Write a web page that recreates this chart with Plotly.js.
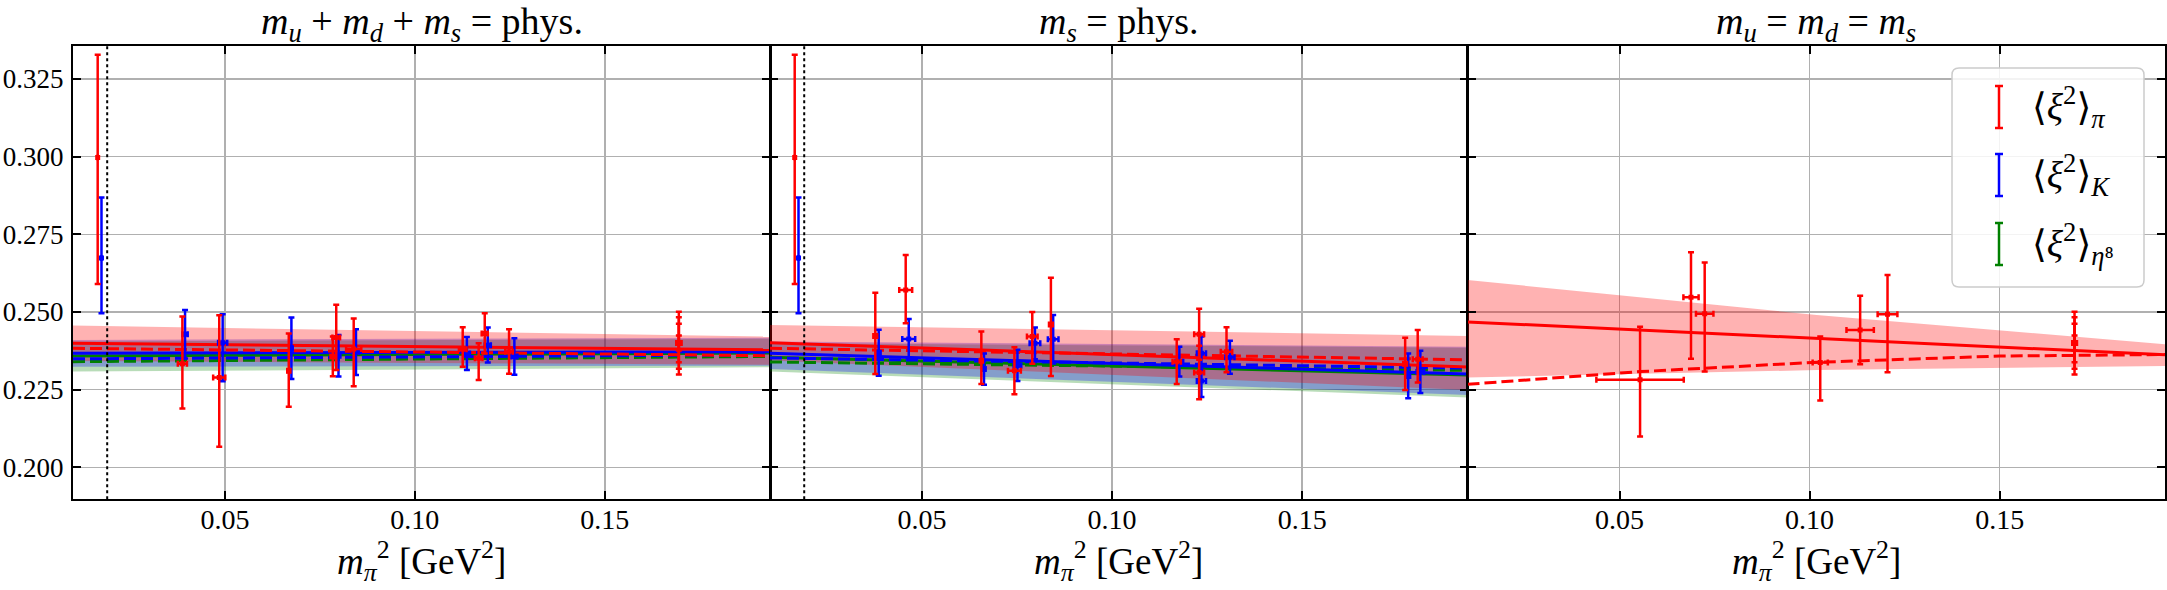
<!DOCTYPE html>
<html>
<head>
<meta charset="utf-8">
<script src="https://cdn.plot.ly/plotly-3.0.1.min.js"></script>
<style>html,body{margin:0;padding:0;background:#fff;}#chart{width:2167px;height:590px;}</style>
</head>
<body>
<div id="chart"></div>
<script>
// ---------------- data ----------------
const X_RANGE = [0.01, 0.1935];
const Y_RANGE = [0.1897, 0.3356];
const X_TICKS = [0.05, 0.10, 0.15];
const X_TICKTEXT = ['0.05', '0.10', '0.15'];
const Y_TICKS = [0.200, 0.225, 0.250, 0.275, 0.300, 0.325];
const Y_TICKTEXT = ['0.200', '0.225', '0.250', '0.275', '0.300', '0.325'];
const PHYS_MPI2 = 0.0190;

const PANEL_TITLES = [
  '<i>m</i><sub><i>u</i></sub> + <i>m</i><sub><i>d</i></sub> + <i>m</i><sub><i>s</i></sub> = phys.',
  '<i>m</i><sub><i>s</i></sub> = phys.',
  '<i>m</i><sub><i>u</i></sub> = <i>m</i><sub><i>d</i></sub> = <i>m</i><sub><i>s</i></sub>'
];
const X_TITLE = '<i>m</i><sub><i>π</i></sub><sup>2</sup> [GeV<sup>2</sup>]';
const LEGEND_LABELS = [
  '⟨<i>ξ</i><sup>2</sup>⟩<sub><i>π</i></sub>',
  '⟨<i>ξ</i><sup>2</sup>⟩<sub><i>K</i></sub>',
  '⟨<i>ξ</i><sup>2</sup>⟩<sub><i>η</i>⁸</sub>'
];

// Panel 1: m_u + m_d + m_s = phys.
const P1_PI_X      = [0.0165, 0.0388, 0.0485, 0.0668, 0.0784, 0.0793, 0.0839, 0.1126, 0.1168, 0.1184, 0.1248, 0.1695, 0.1695, 0.1695, 0.1695];
const P1_PI_Y      = [0.2997, 0.2333, 0.2289, 0.2311, 0.2357, 0.2418, 0.2381, 0.2380, 0.2351, 0.2431, 0.2372, 0.2400, 0.2400, 0.2400, 0.2400];
const P1_PI_EP     = [0.0331, 0.0152, 0.0200, 0.0120, 0.0064, 0.0105, 0.0098, 0.0071, 0.0048, 0.0065, 0.0072, 0.0101, 0.0083, 0.0062, 0.0024];
const P1_PI_EM     = [0.0407, 0.0144, 0.0223, 0.0116, 0.0064, 0.0105, 0.0120, 0.0056, 0.0070, 0.0065, 0.0071, 0.0101, 0.0083, 0.0062, 0.0024];
const P1_PI_XE     = [0.0000, 0.0012, 0.0016, 0.0004, 0.0006, 0.0010, 0.0020, 0.0010, 0.0010, 0.0008, 0.0010, 0.0006, 0.0006, 0.0006, 0.0006];
const P1_K_X       = [0.0175, 0.0395, 0.0494, 0.0675, 0.0799, 0.0845, 0.1137, 0.1192, 0.1262];
const P1_K_Y       = [0.2674, 0.2428, 0.2401, 0.2383, 0.2359, 0.2371, 0.2366, 0.2393, 0.2357];
const P1_K_EP      = [0.0194, 0.0078, 0.0092, 0.0099, 0.0067, 0.0073, 0.0053, 0.0057, 0.0058];
const P1_K_EM      = [0.0178, 0.0078, 0.0124, 0.0099, 0.0067, 0.0074, 0.0053, 0.0056, 0.0059];
const P1_K_XE      = [0.0000, 0.0007, 0.0012, 0.0003, 0.0005, 0.0008, 0.0008, 0.0008, 0.0008];
const P1_FIT_X     = [0.01, 0.1935];
const P1_PI_UP     = [0.2456, 0.2421];
const P1_PI_LO     = [0.2342, 0.2330];
const P1_K_UP      = [0.2410, 0.2417];
const P1_K_LO      = [0.2324, 0.2327];
const P1_ETA_UP    = [0.2405, 0.2414];
const P1_ETA_LO    = [0.2308, 0.2322];
const P1_PI_SOLID  = [0.2399, 0.2378];
const P1_PI_DASH   = [0.2383, 0.2359];
const P1_K_SOLID   = [0.2367, 0.2372];
const P1_K_DASH    = [0.2349, 0.2362];
const P1_ETA_SOLID = [0.2358, 0.2368];
const P1_ETA_DASH  = [0.2340, 0.2357];

// Panel 2: m_s = phys.
const P2_PI_X      = [0.0165, 0.0377, 0.0457, 0.0656, 0.0743, 0.0790, 0.0839, 0.1170, 0.1229, 0.1229, 0.1301, 0.1771, 0.1804];
const P2_PI_Y      = [0.2997, 0.2423, 0.2571, 0.2343, 0.2311, 0.2421, 0.2460, 0.2340, 0.2428, 0.2305, 0.2372, 0.2333, 0.2348];
const P2_PI_EP     = [0.0331, 0.0139, 0.0112, 0.0094, 0.0075, 0.0079, 0.0150, 0.0072, 0.0082, 0.0086, 0.0079, 0.0084, 0.0094];
const P2_PI_EM     = [0.0407, 0.0123, 0.0107, 0.0075, 0.0076, 0.0088, 0.0166, 0.0072, 0.0082, 0.0086, 0.0066, 0.0084, 0.0075];
const P2_PI_XE     = [0.0000, 0.0005, 0.0017, 0.0004, 0.0017, 0.0014, 0.0005, 0.0011, 0.0013, 0.0013, 0.0015, 0.0005, 0.0013];
const P2_K_X       = [0.0175, 0.0386, 0.0465, 0.0663, 0.0751, 0.0797, 0.0845, 0.1177, 0.1235, 0.1235, 0.1310, 0.1779, 0.1811];
const P2_K_Y       = [0.2674, 0.2369, 0.2413, 0.2316, 0.2328, 0.2399, 0.2412, 0.2340, 0.2367, 0.2278, 0.2354, 0.2294, 0.2307];
const P2_K_EP      = [0.0194, 0.0074, 0.0064, 0.0050, 0.0050, 0.0051, 0.0078, 0.0048, 0.0054, 0.0052, 0.0053, 0.0072, 0.0068];
const P2_K_EM      = [0.0178, 0.0074, 0.0064, 0.0050, 0.0050, 0.0051, 0.0078, 0.0048, 0.0054, 0.0052, 0.0053, 0.0072, 0.0068];
const P2_K_XE      = [0.0000, 0.0005, 0.0017, 0.0004, 0.0010, 0.0014, 0.0014, 0.0010, 0.0012, 0.0012, 0.0012, 0.0005, 0.0010];
const P2_FIT_X     = [0.01, 0.1935];
const P2_PI_UP     = [0.2458, 0.2423];
const P2_PI_LO     = [0.2344, 0.2249];
const P2_K_UP      = [0.2405, 0.2388];
const P2_K_LO      = [0.2316, 0.2233];
const P2_ETA_UP    = [0.2400, 0.2385];
const P2_ETA_LO    = [0.2308, 0.2225];
const P2_PI_SOLID  = [0.2401, 0.2323];
const P2_PI_DASH   = [0.2383, 0.2346];
const P2_K_SOLID   = [0.2367, 0.2300];
const P2_K_DASH    = [0.2352, 0.2319];
const P2_ETA_SOLID = [0.2354, 0.2297];
const P2_ETA_DASH  = [0.2339, 0.2312];

// Panel 3: m_u = m_d = m_s
const P3_PI_X      = [0.0554, 0.0688, 0.0724, 0.1028, 0.1133, 0.1205, 0.1697, 0.1697, 0.1697, 0.1697];
const P3_PI_Y      = [0.2282, 0.2547, 0.2494, 0.2337, 0.2442, 0.2493, 0.2400, 0.2400, 0.2400, 0.2400];
const P3_PI_EP     = [0.0170, 0.0145, 0.0165, 0.0084, 0.0110, 0.0126, 0.0101, 0.0083, 0.0062, 0.0024];
const P3_PI_EM     = [0.0183, 0.0198, 0.0186, 0.0122, 0.0110, 0.0187, 0.0101, 0.0083, 0.0062, 0.0024];
const P3_PI_XE     = [0.0115, 0.0020, 0.0023, 0.0020, 0.0036, 0.0026, 0.0006, 0.0006, 0.0006, 0.0006];
const P3_BAND_X    = [0.01, 0.1019, 0.1935];
const P3_PI_UP     = [0.2603, 0.2490, 0.2396];
const P3_PI_LO     = [0.2289, 0.2313, 0.2326];
const P3_SOLID_X   = [0.01, 0.1935];
const P3_PI_SOLID  = [0.2468, 0.2362];
const P3_DASH_X    = [0.01, 0.0554, 0.1019, 0.15, 0.1935];
const P3_PI_DASH   = [0.2267, 0.2308, 0.2338, 0.2358, 0.2363];

// ---------------- styling ----------------
const W = 2167, H = 590;
const FONT = 'Liberation Serif, DejaVu Serif, serif';
const RED = '#ff0000', BLUE = '#0000ff', GREEN = '#008000';
const PANEL_PX = [[73, 770], [770, 1467.5], [1467.5, 2165]];
const TOP_PX = 46, BOT_PX = 499.3;
const px2x = p => p / W;
const px2y = p => 1 - p / H;

const traces = [];
function band(ax, xs, up, lo, color) {
  traces.push({x: xs.concat(xs.slice().reverse()), y: up.concat(lo.slice().reverse()),
    xaxis: ax[0], yaxis: ax[1], type: 'scatter', mode: 'lines', fill: 'toself',
    fillcolor: color, line: {width: 0}, hoverinfo: 'skip'});
}
function line(ax, xs, ys, color, dash) {
  traces.push({x: xs, y: ys, xaxis: ax[0], yaxis: ax[1], type: 'scatter', mode: 'lines',
    line: {color: color, width: 3, dash: dash}, hoverinfo: 'skip'});
}
function points(ax, xs, ys, ep, em, xe, color) {
  traces.push({x: xs, y: ys, xaxis: ax[0], yaxis: ax[1], type: 'scatter', mode: 'markers',
    marker: {color: color, size: 5, symbol: 'square'},
    error_y: {type: 'data', symmetric: false, array: ep, arrayminus: em, color: color, thickness: 2.5, width: 3},
    error_x: {type: 'data', array: xe, color: color, thickness: 2.5, width: 3}});
}
const GREEN_FILL = 'rgba(0,128,0,0.28)', BLUE_FILL = 'rgba(0,0,255,0.28)', RED_FILL = 'rgba(255,0,0,0.3)';
const DASH = '12px,5px';

// panel 1
let ax = ['x', 'y'];
band(ax, P1_FIT_X, P1_ETA_UP, P1_ETA_LO, GREEN_FILL);
band(ax, P1_FIT_X, P1_K_UP, P1_K_LO, BLUE_FILL);
band(ax, P1_FIT_X, P1_PI_UP, P1_PI_LO, RED_FILL);
line(ax, P1_FIT_X, P1_ETA_DASH, GREEN, DASH);
line(ax, P1_FIT_X, P1_ETA_SOLID, GREEN, 'solid');
line(ax, P1_FIT_X, P1_K_DASH, BLUE, DASH);
line(ax, P1_FIT_X, P1_K_SOLID, BLUE, 'solid');
line(ax, P1_FIT_X, P1_PI_DASH, RED, DASH);
line(ax, P1_FIT_X, P1_PI_SOLID, RED, 'solid');
points(ax, P1_K_X, P1_K_Y, P1_K_EP, P1_K_EM, P1_K_XE, BLUE);
points(ax, P1_PI_X, P1_PI_Y, P1_PI_EP, P1_PI_EM, P1_PI_XE, RED);
// panel 2
ax = ['x2', 'y2'];
band(ax, P2_FIT_X, P2_ETA_UP, P2_ETA_LO, GREEN_FILL);
band(ax, P2_FIT_X, P2_K_UP, P2_K_LO, BLUE_FILL);
band(ax, P2_FIT_X, P2_PI_UP, P2_PI_LO, RED_FILL);
line(ax, P2_FIT_X, P2_ETA_DASH, GREEN, DASH);
line(ax, P2_FIT_X, P2_ETA_SOLID, GREEN, 'solid');
line(ax, P2_FIT_X, P2_K_DASH, BLUE, DASH);
line(ax, P2_FIT_X, P2_K_SOLID, BLUE, 'solid');
line(ax, P2_FIT_X, P2_PI_DASH, RED, DASH);
line(ax, P2_FIT_X, P2_PI_SOLID, RED, 'solid');
points(ax, P2_K_X, P2_K_Y, P2_K_EP, P2_K_EM, P2_K_XE, BLUE);
points(ax, P2_PI_X, P2_PI_Y, P2_PI_EP, P2_PI_EM, P2_PI_XE, RED);
// panel 3
ax = ['x3', 'y3'];
band(ax, P3_BAND_X, P3_PI_UP, P3_PI_LO, RED_FILL);
line(ax, P3_DASH_X, P3_PI_DASH, RED, DASH);
line(ax, P3_SOLID_X, P3_PI_SOLID, RED, 'solid');
points(ax, P3_PI_X, P3_PI_Y, P3_PI_EP, P3_PI_EM, P3_PI_XE, RED);

function xaxis(i) {
  return {domain: [px2x(PANEL_PX[i][0]), px2x(PANEL_PX[i][1])], range: X_RANGE, anchor: i === 0 ? 'y' : 'y' + (i + 1),
    tickmode: 'array', tickvals: X_TICKS, ticktext: X_TICKTEXT, ticks: 'inside', ticklen: 8, tickwidth: 2, tickcolor: '#000',
    mirror: 'allticks', showline: true, linecolor: '#000', linewidth: 2, showgrid: true, gridcolor: '#b0b0b0', gridwidth: 1.5,
    zeroline: false, tickfont: {family: FONT, size: 28, color: '#000'}, ticklabelstandoff: -6, fixedrange: true};
}
function yaxis(i) {
  return {domain: [px2y(BOT_PX), px2y(TOP_PX)], range: Y_RANGE, anchor: i === 0 ? 'x' : 'x' + (i + 1),
    tickmode: 'array', tickvals: Y_TICKS, ticktext: Y_TICKTEXT, ticks: 'inside', ticklen: 8, tickwidth: 2, tickcolor: '#000',
    mirror: 'allticks', showline: true, linecolor: '#000', linewidth: i === 0 ? 2 : 1.5, showgrid: true, gridcolor: '#b0b0b0', gridwidth: 1.5,
    zeroline: false, showticklabels: i === 0, tickfont: {family: FONT, size: 27, color: '#000'}, ticklabelstandoff: 2, fixedrange: true};
}

const annotations = [];
const shapes = [];
for (let i = 0; i < 3; i++) {
  const cx = px2x((PANEL_PX[i][0] + PANEL_PX[i][1]) / 2);
  annotations.push({xref: 'paper', yref: 'paper', x: cx, y: px2y(24), xanchor: 'center', yanchor: 'middle',
    text: PANEL_TITLES[i], showarrow: false, font: {family: FONT, size: 38, color: '#000'}});
  annotations.push({xref: 'paper', yref: 'paper', x: cx, y: px2y(561), xanchor: 'center', yanchor: 'middle',
    text: X_TITLE, showarrow: false, font: {family: FONT, size: 37, color: '#000'}});
}
// physical point dotted lines (panels 1 and 2)
['x', 'x2'].forEach(xr => shapes.push({type: 'line', xref: xr, yref: 'paper', x0: PHYS_MPI2, x1: PHYS_MPI2,
  y0: px2y(BOT_PX), y1: px2y(TOP_PX), line: {color: '#000', width: 2, dash: 'dot'}}));

// legend box (rounded)
const L = 1952, R = 2144, T = 68, B = 287, rr = 7;
const P = (x, y) => px2x(x) + ',' + px2y(y);
shapes.push({type: 'path', xref: 'paper', yref: 'paper',
  path: 'M' + P(L + rr, T) + ' L' + P(R - rr, T) + ' Q' + P(R, T) + ' ' + P(R, T + rr) +
        ' L' + P(R, B - rr) + ' Q' + P(R, B) + ' ' + P(R - rr, B) +
        ' L' + P(L + rr, B) + ' Q' + P(L, B) + ' ' + P(L, B - rr) +
        ' L' + P(L, T + rr) + ' Q' + P(L, T) + ' ' + P(L + rr, T) + ' Z',
  fillcolor: 'rgba(255,255,255,0.85)', line: {color: '#cccccc', width: 1.5}, layer: 'above'});
const LEG_COLORS = [RED, BLUE, GREEN];
const LEG_Y = [107, 175, 244];
for (let k = 0; k < 3; k++) {
  const cxp = 1999, y0 = LEG_Y[k] - 21, y1 = LEG_Y[k] + 21;
  shapes.push({type: 'line', xref: 'paper', yref: 'paper', x0: px2x(cxp), x1: px2x(cxp), y0: px2y(y0), y1: px2y(y1),
    line: {color: LEG_COLORS[k], width: 2.5}, layer: 'above'});
  [y0, y1].forEach(yy => shapes.push({type: 'line', xref: 'paper', yref: 'paper', x0: px2x(cxp - 4), x1: px2x(cxp + 4),
    y0: px2y(yy), y1: px2y(yy), line: {color: LEG_COLORS[k], width: 2.5}, layer: 'above'}));
  annotations.push({xref: 'paper', yref: 'paper', x: px2x(2030), y: px2y(LEG_Y[k]), xanchor: 'left', yanchor: 'middle',
    text: LEGEND_LABELS[k], showarrow: false, font: {family: FONT, size: 38, color: '#000'}});
}

const layout = {
  width: W, height: H, margin: {l: 0, r: 0, t: 0, b: 0}, paper_bgcolor: '#fff', plot_bgcolor: '#fff',
  showlegend: false, font: {family: FONT, color: '#000'},
  xaxis: xaxis(0), xaxis2: xaxis(1), xaxis3: xaxis(2),
  yaxis: yaxis(0), yaxis2: yaxis(1), yaxis3: yaxis(2),
  annotations: annotations, shapes: shapes
};
Plotly.newPlot('chart', traces, layout, {displayModeBar: false, staticPlot: true});
</script>
</body>
</html>
